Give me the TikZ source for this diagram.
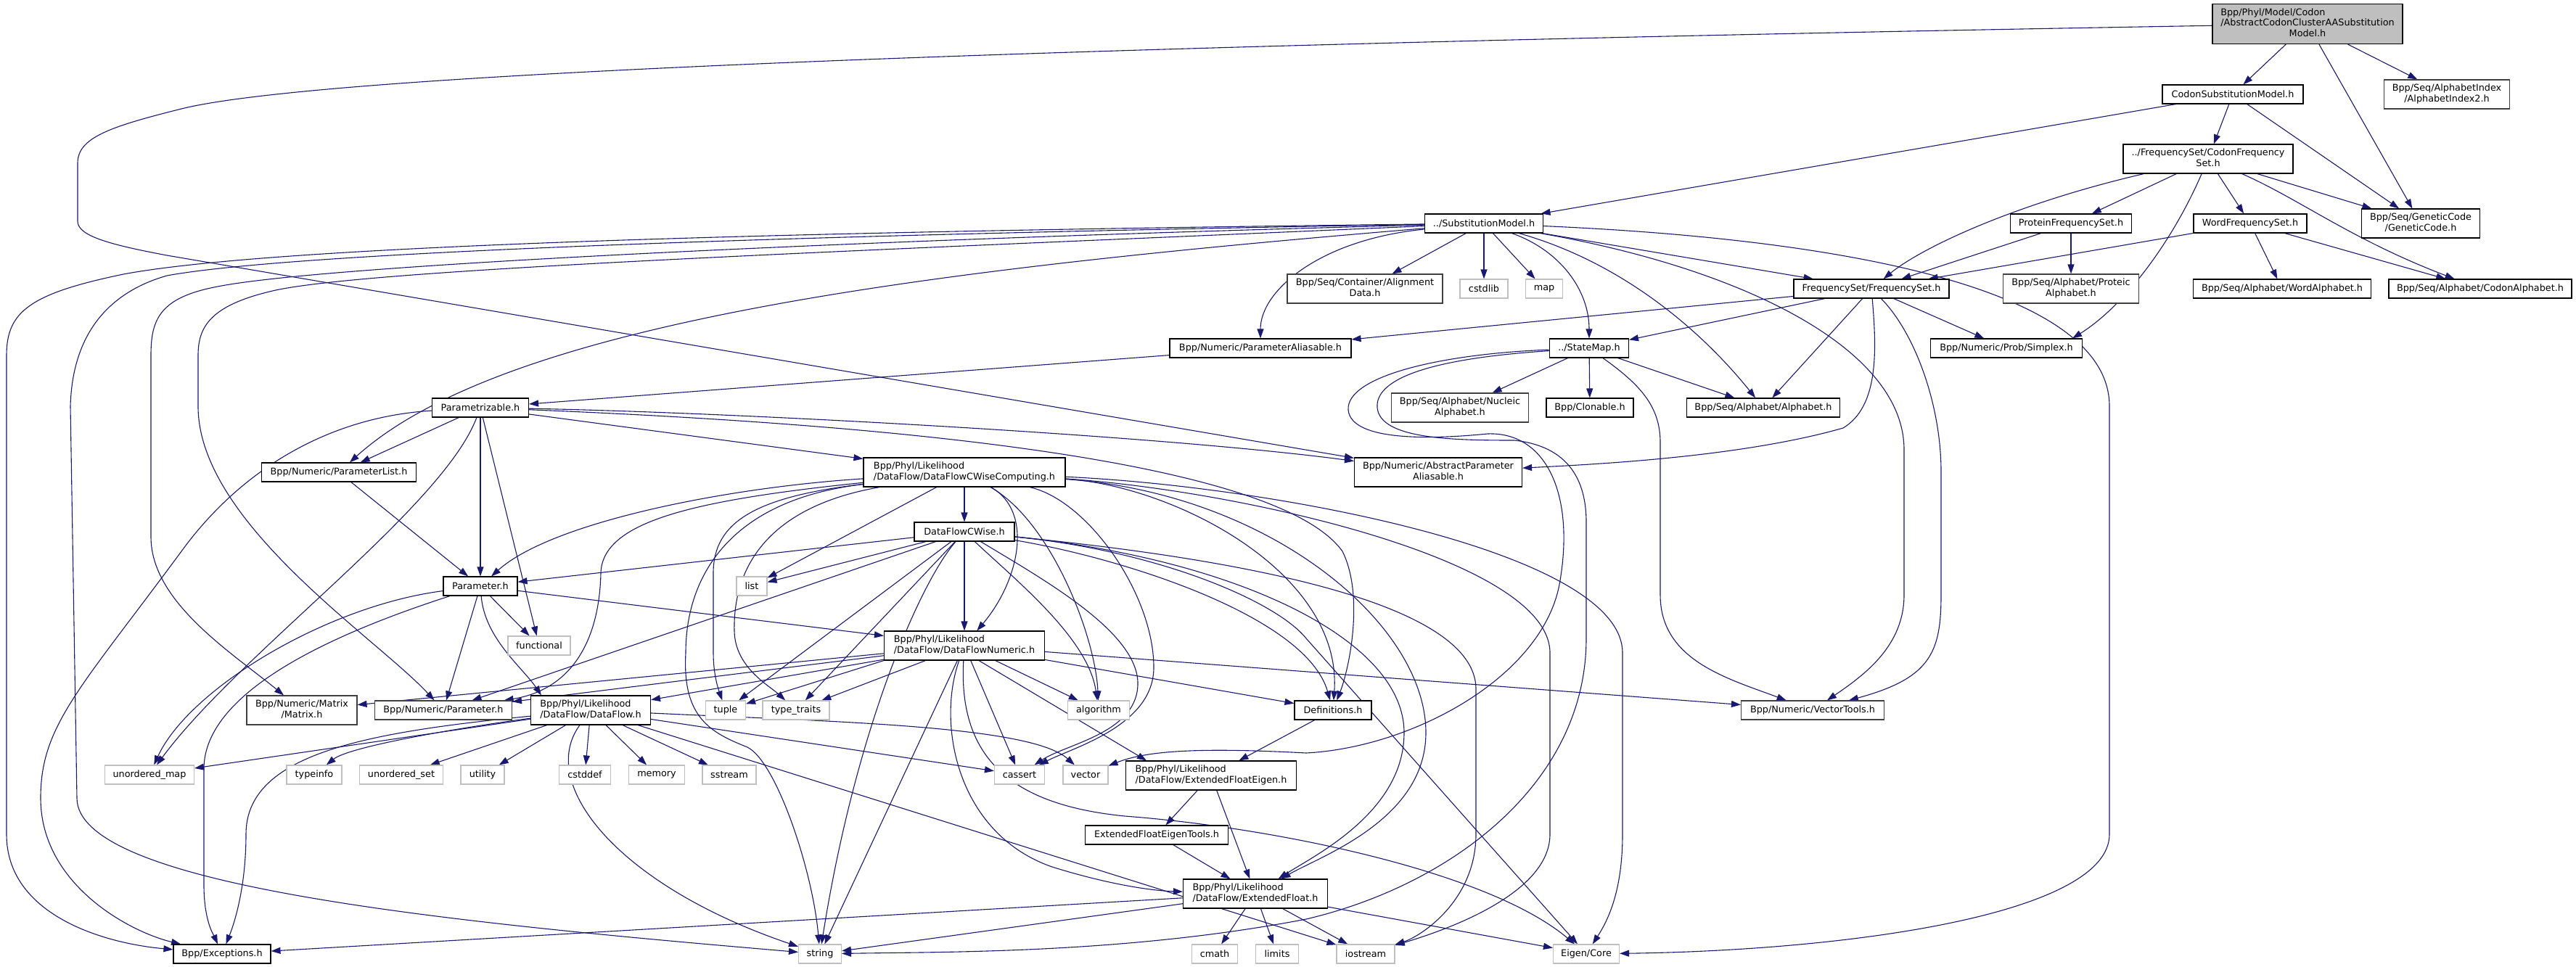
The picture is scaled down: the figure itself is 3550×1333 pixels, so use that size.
\documentclass[tikz,border=0pt]{standalone}
\usepackage{fontspec}
\setmainfont{DejaVu Sans}
\usetikzlibrary{arrows.meta}
\definecolor{edgec}{HTML}{191970}
\definecolor{sysc}{HTML}{BFBFBF}
\definecolor{extc}{HTML}{404040}
\newcommand{\twol}[2]{\begin{tabular}{@{}l@{}}#1\\\multicolumn{1}{@{}c@{}}{#2}\end{tabular}}
\newcommand{\threel}[3]{\begin{tabular}{@{}l@{}}#1\\#2\\\multicolumn{1}{@{}c@{}}{#3}\end{tabular}}
\newcommand{\mynode}[6]{\node[#1,minimum width=#2pt,minimum height=#3pt] (#4) at (#5) {#6};}
\pgfdeclarelayer{bg}
\pgfsetlayers{bg,main}
\tikzset{
  box/.style={rectangle,inner sep=0pt,font=\fontsize{12.8}{14.6}\selectfont,line width=1.1pt,fill=white},
  doc/.style={box,draw=black},
  ext/.style={box,draw=extc},
  sys/.style={box,draw=sysc},
  dep/.style={draw=edgec,line width=1.1pt,-{Triangle[length=13pt,width=9pt]}},
}
\begin{document}
\begin{tikzpicture}[x=1pt,y=-1pt]
\useasboundingbox (0,0) rectangle (3550,1333);
% ---------- nodes ----------
\node[doc,fill=sysc,minimum width=262pt,minimum height=55pt] (root) at (3180,33) {\threel{Bpp/Phyl/Model/Codon}{/AbstractCodonClusterAASubstitution}{Model.h}};
\mynode{doc}{194}{26}{csm}{3077,130}{CodonSubstitutionModel.h}
\mynode{ext}{173}{40}{ai2}{3372,130}{\twol{Bpp/Seq/AlphabetIndex}{/AlphabetIndex2.h}}
\mynode{doc}{234}{40}{cfs}{3043,219}{\twol{../FrequencySet/CodonFrequency}{Set.h}}
\mynode{doc}{163}{40}{gc}{3336,308}{\twol{Bpp/Seq/GeneticCode}{/GeneticCode.h}}
\mynode{doc}{167}{26}{pfs}{2854,308}{ProteinFrequencySet.h}
\mynode{doc}{156}{26}{wfs}{3101,308}{WordFrequencySet.h}
\mynode{ext}{187}{40}{pra}{2854,398}{\twol{Bpp/Seq/Alphabet/Proteic}{Alphabet.h}}
\mynode{doc}{245}{26}{wa}{3145,398}{Bpp/Seq/Alphabet/WordAlphabet.h}
\mynode{doc}{252}{26}{ca}{3418,398}{Bpp/Seq/Alphabet/CodonAlphabet.h}
\mynode{doc}{163}{26}{sm}{2045,308}{../SubstitutionModel.h}
\mynode{ext}{214}{40}{ad}{1881,398}{\twol{Bpp/Seq/Container/Alignment}{Data.h}}
\mynode{sys}{66}{26}{cstdlib}{2045,398}{cstdlib}
\mynode{sys}{51}{26}{map}{2128,398}{map}
\mynode{doc}{214}{26}{fs}{2579,398}{FrequencySet/FrequencySet.h}
\mynode{doc}{250}{26}{pa}{1737,480}{Bpp/Numeric/ParameterAliasable.h}
\mynode{doc}{109}{26}{stm}{2190,480}{../StateMap.h}
\mynode{doc}{209}{26}{sx}{2765,480}{Bpp/Numeric/Prob/Simplex.h}
\mynode{ext}{189}{40}{na}{2012,562}{\twol{Bpp/Seq/Alphabet/Nucleic}{Alphabet.h}}
\mynode{doc}{120}{26}{clo}{2191,562}{Bpp/Clonable.h}
\mynode{doc}{211}{26}{alph}{2430,562}{Bpp/Seq/Alphabet/Alphabet.h}
\mynode{doc}{133}{26}{pz}{662,562}{Parametrizable.h}
\mynode{doc}{231}{40}{apa}{1982,651}{\twol{Bpp/Numeric/AbstractParameter}{Aliasable.h}}
\mynode{doc}{213}{26}{pl}{467,651}{Bpp/Numeric/ParameterList.h}
\mynode{doc}{278}{40}{cwc}{1329,651}{\twol{Bpp/Phyl/Likelihood}{/DataFlow/DataFlowCWiseComputing.h}}
\mynode{doc}{138}{26}{cw}{1329,733}{DataFlowCWise.h}
\mynode{sys}{42}{26}{list}{1036,808}{list}
\mynode{doc}{102}{26}{par}{662,808}{Parameter.h}
\mynode{doc}{221}{40}{dfn}{1329,890}{\twol{Bpp/Phyl/Likelihood}{/DataFlow/DataFlowNumeric.h}}
\mynode{sys}{86}{26}{func}{743,890}{functional}
\mynode{ext}{152}{40}{mat}{416,979}{\twol{Bpp/Numeric/Matrix}{/Matrix.h}}
\mynode{ext}{189}{26}{np}{611,979}{Bpp/Numeric/Parameter.h}
\mynode{doc}{165}{40}{df}{814,979}{\twol{Bpp/Phyl/Likelihood}{/DataFlow/DataFlow.h}}
\mynode{sys}{55}{26}{tuple}{1000,979}{tuple}
\mynode{sys}{92}{26}{tt}{1097,979}{type\_traits}
\mynode{sys}{85}{26}{alg}{1514,979}{algorithm}
\mynode{doc}{106}{26}{defs}{1837,979}{Definitions.h}
\mynode{ext}{197}{26}{vt}{2498,979}{Bpp/Numeric/VectorTools.h}
\mynode{sys}{123}{26}{umap}{206,1068}{unordered\_map}
\mynode{sys}{76}{26}{tinfo}{433,1068}{typeinfo}
\mynode{sys}{115}{26}{uset}{553,1068}{unordered\_set}
\mynode{sys}{60}{26}{util}{665,1068}{utility}
\mynode{sys}{71}{26}{cstddef}{806,1068}{cstddef}
\mynode{sys}{77}{26}{mem}{905,1068}{memory}
\mynode{sys}{74}{26}{sstr}{1005,1068}{sstream}
\mynode{sys}{69}{26}{cas}{1405,1068}{cassert}
\mynode{sys}{62}{26}{vec}{1496,1068}{vector}
\mynode{doc}{235}{40}{efe}{1669,1069}{\twol{Bpp/Phyl/Likelihood}{/DataFlow/ExtendedFloatEigen.h}}
\mynode{doc}{197}{26}{efet}{1594,1151}{ExtendedFloatEigenTools.h}
\mynode{doc}{199}{40}{ef}{1730,1232}{\twol{Bpp/Phyl/Likelihood}{/DataFlow/ExtendedFloat.h}}
\mynode{doc}{134}{26}{exc}{306,1315}{Bpp/Exceptions.h}
\mynode{sys}{59}{26}{str}{1130,1315}{string}
\mynode{sys}{63}{26}{cmath}{1674,1315}{cmath}
\mynode{sys}{59}{26}{lim}{1760,1315}{limits}
\mynode{sys}{80}{26}{ios}{1882,1315}{iostream}
\mynode{sys}{91}{26}{eig}{2186,1315}{Eigen/Core}
% ---------- edges ----------
\begin{pgfonlayer}{bg}
% root
\draw[dep] (root) -- (csm);
\draw[dep] (root) -- (gc);
\draw[dep] (root) -- (ai2);
\draw[dep] (root) .. controls (1500,62) and (450,100) .. (250,150) .. controls (150,175) and (107,190) .. (107,225) -- (107,305) .. controls (107,325) and (150,337) .. (230,352) -- (apa);
% CodonSubstitutionModel
\draw[dep] (csm) -- (sm);
\draw[dep] (csm) -- (cfs);
\draw[dep] (csm) -- (gc);
% CodonFrequencySet
\draw[dep] (cfs) -- (pfs);
\draw[dep] (cfs) -- (wfs);
\draw[dep] (cfs) -- (gc);
\draw[dep] (cfs) .. controls (3170,275) and (3240,330) .. (ca);
\draw[dep] (cfs) .. controls (2780,280) and (2650,340) .. (fs);
\draw[dep] (cfs) .. controls (2995,330) and (2930,420) .. ([xshift=-14pt]sx.north east);
% Protein / Word frequency sets
\draw[dep] (pfs) -- (fs);
\draw[dep] (pfs) -- (pra);
\draw[dep] (wfs) -- (fs);
\draw[dep] (wfs) -- (wa);
\draw[dep] (wfs) -- (ca);
% SubstitutionModel
\draw[dep] (sm) -- (ad);
\draw[dep] (sm) -- (cstdlib);
\draw[dep] (sm) -- (map);
\draw[dep] (sm) -- (fs);
\draw[dep] (sm) .. controls (2150,345) and (2190,400) .. (stm);
\draw[dep] (sm) .. controls (2230,360) and (2340,450) .. (alph);
\draw[dep] (sm) .. controls (2400,370) and (2624,480) .. (2624,620) -- (2624,820) .. controls (2624,890) and (2570,930) .. (vt);
\draw[dep] (sm) .. controls (2550,330) and (2907,400) .. (2907,560) -- (2907,1150) .. controls (2907,1260) and (2550,1310) .. (eig);
\draw[dep] (sm) .. controls (1820,330) and (1737,400) .. (pa);
\draw[dep] (sm) .. controls (1300,370) and (700,440) .. (pl);
\draw[dep] (sm) .. controls (1200,330) and (450,365) .. (300,395) .. controls (220,410) and (208,440) .. (208,490) -- (208,740) .. controls (208,830) and (320,900) .. (mat);
\draw[dep] (sm) .. controls (1200,345) and (520,370) .. (380,400) .. controls (290,420) and (273,450) .. (273,490) -- (273,560) .. controls (273,720) and (520,880) .. (np);
\draw[dep] (sm) .. controls (1200,318) and (400,335) .. (170,378) .. controls (40,405) and (9,430) .. (9,490) -- (9,1150) .. controls (9,1260) and (140,1300) .. (exc);
\draw[dep] (sm) .. controls (1200,322) and (420,345) .. (230,380) .. controls (160,400) and (100,450) .. (97,560) -- (106,1100) .. controls (106,1220) and (600,1270) .. (str);
% FrequencySet
\draw[dep] (fs) -- (pa);
\draw[dep] (fs) -- (stm);
\draw[dep] (fs) -- (alph);
\draw[dep] (fs) .. controls (2586,480) and (2590,560) .. (2540,590) .. controls (2400,630) and (2200,640) .. (apa);
\draw[dep] (fs) .. controls (2640,460) and (2675,560) .. (2675,650) -- (2675,820) .. controls (2675,900) and (2660,935) .. (vt);
\draw[dep] (fs) -- (sx);
% StateMap
\draw[dep] (stm) -- (na);
\draw[dep] (stm) -- (clo);
\draw[dep] (stm) -- (alph);
\draw[dep] (stm) .. controls (2260,530) and (2288,560) .. (2288,610) -- (2288,820) .. controls (2288,910) and (2380,935) .. (vt);
\draw[dep] (stm) .. controls (1980,488) and (1855,520) .. (1858,565) .. controls (1862,610) and (1980,605) .. (2050,598) .. controls (2130,595) and (2170,680) .. (2150,800) .. controls (2130,930) and (1950,1030) .. (1800,1038) .. controls (1650,1030) and (1580,1035) .. (vec);
\draw[dep] (stm) .. controls (1960,495) and (1895,525) .. (1898,562) .. controls (1902,605) and (2000,607) .. (2087,607) .. controls (2160,615) and (2186,660) .. (2186,720) -- (2186,880) .. controls (2186,1080) and (2000,1220) .. (1800,1267) .. controls (1550,1315) and (1300,1312) .. (str);
% ParameterAliasable
\draw[dep] (pa) -- (pz);
% Parametrizable
\draw[dep] (pz) .. controls (1000,568) and (1600,600) .. (apa);
\draw[dep] (pz) -- (pl);
\draw[dep] (pz) -- (par);
\draw[dep] (pz) -- (func);
\draw[dep] (pz) -- (cwc);
\draw[dep] (pz) .. controls (450,575) and (330,650) .. (250,760) .. controls (110,950) and (56,1000) .. (56,1100) .. controls (56,1220) and (180,1285) .. (exc);
\draw[dep] (pz) .. controls (610,700) and (330,900) .. (umap);
\draw[dep] (pz) .. controls (1100,580) and (1750,620) .. (1850,760) .. controls (1880,820) and (1860,920) .. (defs);
% ParameterList
\draw[dep] (pl) -- (par);
% Parameter.h
\draw[dep] (par) .. controls (450,835) and (260,950) .. (umap);
\draw[dep] (par) .. controls (470,870) and (281,950) .. (281,1060) -- (281,1220) .. controls (281,1270) and (295,1290) .. (exc);
\draw[dep] (par) -- (np);
\draw[dep] (par) .. controls (668,880) and (720,920) .. ([xshift=-68pt]df.north);
\draw[dep] (par) -- (func);
\draw[dep] (par) -- (dfn);
% DataFlowCWiseComputing
\draw[dep] (cwc) -- (cw);
\draw[dep] (cwc) .. controls (1425,705) and (1405,800) .. (dfn);
\draw[dep] (cwc) -- (list);
\draw[dep] (cwc) .. controls (1000,672) and (760,720) .. (par);
\draw[dep] (cwc) .. controls (950,690) and (830,720) .. (828,790) .. controls (826,880) and (790,950) .. (np);
\draw[dep] (cwc) .. controls (1040,685) and (983,720) .. (983,790) -- (983,900) .. controls (983,930) and (990,950) .. (tuple);
\draw[dep] (cwc) .. controls (1050,700) and (1010,790) .. (1012,870) .. controls (1013,920) and (1060,945) .. (tt);
\draw[dep] (cwc) .. controls (1000,690) and (945,800) .. (945,900) .. controls (940,990) and (980,1010) .. (1030,1030) .. controls (1070,1050) and (1120,1200) .. (str);
\draw[dep] (cwc) .. controls (1450,720) and (1510,880) .. (alg);
\draw[dep] (cwc) .. controls (1500,690) and (1590,820) .. (1590,920) .. controls (1590,1000) and (1480,1030) .. (cas);
\draw[dep] (cwc) .. controls (1620,670) and (1850,790) .. (defs);
\draw[dep] (cwc) .. controls (1750,680) and (1965,860) .. (1965,1010) .. controls (1965,1130) and (1820,1180) .. (ef);
\draw[dep] (cwc) .. controls (1700,675) and (2136,770) .. (2136,900) -- (2136,1150) .. controls (2136,1230) and (2000,1280) .. (ios);
\draw[dep] (cwc) .. controls (1750,670) and (2236,760) .. (2236,900) -- (2236,1150) .. controls (2236,1230) and (2215,1270) .. (eig);
% DataFlowCWise
\draw[dep] (cw) -- (list);
\draw[dep] (cw) -- (par);
\draw[dep] (cw) -- (dfn);
\draw[dep] (cw) -- (np);
\draw[dep] (cw) -- (tuple);
\draw[dep] (cw) -- (tt);
\draw[dep] (cw) .. controls (1270,800) and (1180,1000) .. (str);
\draw[dep] (cw) .. controls (1400,800) and (1500,880) .. (alg);
\draw[dep] (cw) .. controls (1440,800) and (1565,870) .. (1568,940) .. controls (1570,1010) and (1470,1025) .. (cas);
\draw[dep] (cw) .. controls (1550,770) and (1800,850) .. (defs);
\draw[dep] (cw) .. controls (1700,770) and (1935,880) .. (1935,1010) .. controls (1935,1120) and (1810,1180) .. (ef);
\draw[dep] (cw) .. controls (1600,760) and (1760,830) .. (1800,880) -- (eig);
\draw[dep] (cw) .. controls (1650,765) and (2034,820) .. (2034,950) -- (2034,1150) .. controls (2034,1240) and (1960,1290) .. (ios);
% DataFlowNumeric
\draw[dep] (dfn) -- (df);
\draw[dep] (dfn) -- (np);
\draw[dep] (dfn) -- (mat);
\draw[dep] (dfn.south west) -- (tuple);
\draw[dep] (dfn) -- (tt);
\draw[dep] (dfn) -- (str);
\draw[dep] (dfn) .. controls (1290,1000) and (1320,1150) .. (1450,1195) .. controls (1530,1220) and (1590,1228) .. (ef);
\draw[dep] (dfn) -- (cas);
\draw[dep] ([xshift=20pt]dfn.south) -- ([xshift=-89pt]efe.north);
\draw[dep] (dfn) -- (alg);
\draw[dep] (dfn) -- (vt);
\draw[dep] (dfn) -- (defs);
\draw[dep] (dfn) .. controls (1320,1050) and (1400,1110) .. (1550,1125) .. controls (1750,1140) and (2050,1200) .. (eig);
% DataFlow
\draw[dep] (df) -- (umap);
\draw[dep] (df) .. controls (620,1005) and (480,1030) .. (tinfo);
\draw[dep] (df) -- (uset);
\draw[dep] (df) -- (util);
\draw[dep] (df) -- (cstddef);
\draw[dep] (df) -- (mem);
\draw[dep] (df) -- (sstr);
\draw[dep] (df) -- (cas);
\draw[dep] (df) .. controls (1150,995) and (1420,1000) .. (vec);
\draw[dep] (df) .. controls (740,1080) and (850,1220) .. (str);
\draw[dep] (df) -- (ios);
\draw[dep] (df) .. controls (500,1010) and (339,1040) .. (339,1150) .. controls (339,1230) and (320,1280) .. (exc);
% Definitions / ExtendedFloat
\draw[dep] (defs) -- (efe);
\draw[dep] (efe) -- (efet);
\draw[dep] (efe) -- (ef);
\draw[dep] (efet) -- (ef);
\draw[dep] (ef) -- (exc);
\draw[dep] (ef) -- (str);
\draw[dep] (ef) -- (cmath);
\draw[dep] (ef) -- (lim);
\draw[dep] (ef) -- (ios);
\draw[dep] (ef) -- (eig);
\end{pgfonlayer}
\end{tikzpicture}
\end{document}
